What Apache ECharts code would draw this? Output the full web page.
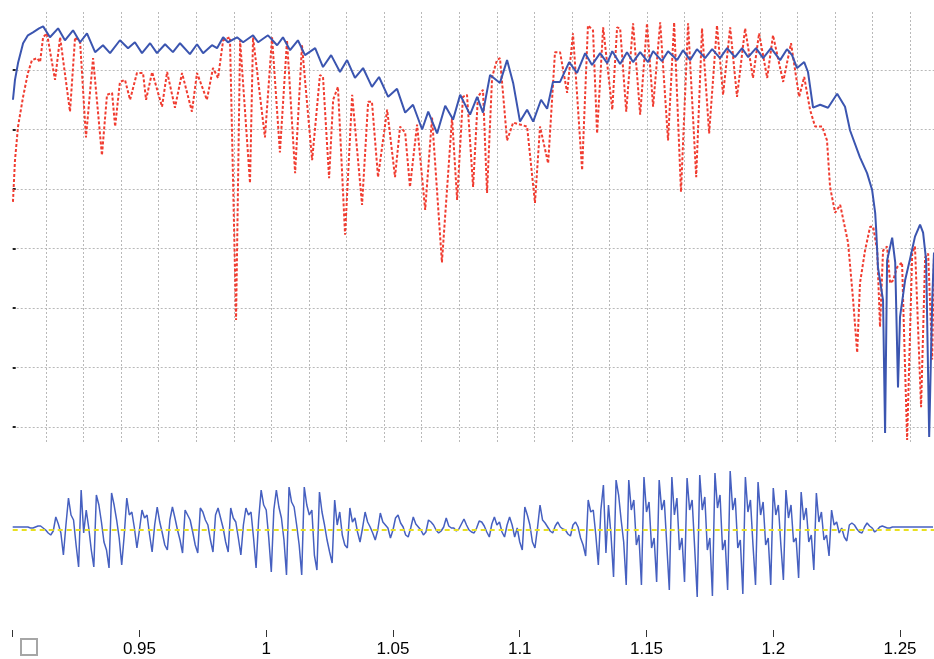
<!DOCTYPE html>
<html>
<head>
<meta charset="utf-8">
<title>Pitch tracks and waveform</title>
<script src="https://cdn.jsdelivr.net/npm/echarts@6/dist/echarts.min.js"></script>
<style>
  html, body { margin: 0; padding: 0; background: #fff; }
  #chart { width: 934px; height: 659px; }
</style>
</head>
<body>
<div id="chart"></div>
<script>
// solid blue pitch track (time in s, value in axis units)
var blueTime = [0.9001,0.9009,0.9021,0.9041,0.9060,0.9080,0.9104,0.9120,0.9147,0.9179,0.9206,0.9238,0.9266,0.9293,0.9325,0.9356,0.9384,0.9423,0.9455,0.9482,0.9510,0.9542,0.9569,0.9601,0.9632,0.9660,0.9699,0.9727,0.9751,0.9786,0.9806,0.9830,0.9849,0.9885,0.9909,0.9948,0.9968,1.0007,1.0043,1.0066,1.0094,1.0125,1.0153,1.0193,1.0224,1.0256,1.0291,1.0319,1.0350,1.0382,1.0417,1.0445,1.0481,1.0516,1.0548,1.0579,1.0615,1.0639,1.0674,1.0706,1.0737,1.0765,1.0804,1.0832,1.0855,1.0883,1.0922,1.0950,1.0974,1.1001,1.1029,1.1053,1.1084,1.1108,1.1131,1.1159,1.1195,1.1226,1.1258,1.1285,1.1317,1.1345,1.1365,1.1396,1.1423,1.1447,1.1475,1.1506,1.1526,1.1561,1.1585,1.1621,1.1644,1.1672,1.1699,1.1731,1.1759,1.1790,1.1818,1.1849,1.1877,1.1901,1.1932,1.1960,1.1991,1.2027,1.2054,1.2074,1.2094,1.2122,1.2137,1.2157,1.2185,1.2216,1.2252,1.2283,1.2303,1.2342,1.2370,1.2390,1.2402,1.2406,1.2413,1.2433,1.2441,1.2449,1.2469,1.2481,1.2492,1.2500,1.2520,1.2540,1.2559,1.2579,1.2591,1.2603,1.2615,1.2627,1.2634];
var bluePitch = [330,350,367,387,395,398,402,404,393,402,390,400,388,397,378,385,377,390,382,388,377,387,377,386,378,387,376,386,377,385,382,393,388,393,388,395,388,395,385,393,380,390,375,382,363,375,358,370,352,362,343,353,333,341,317,325,300,318,296,324,310,335,315,333,317,355,347,370,347,308,320,308,330,321,348,348,368,357,377,365,377,367,379,366,378,368,378,368,379,369,379,370,380,370,381,372,381,372,382,373,382,373,382,372,382,370,381,375,362,368,358,322,325,322,336,323,299,272,256,239,216,199,161,128,-6,168,191,166,40,111,148,170,192,204,196,168,-10,128,176];

// dotted red pitch track
var redTime = [0.9001,0.9009,0.9021,0.9041,0.9060,0.9076,0.9096,0.9108,0.9120,0.9135,0.9167,0.9187,0.9226,0.9246,0.9266,0.9289,0.9317,0.9352,0.9372,0.9392,0.9404,0.9423,0.9443,0.9463,0.9490,0.9514,0.9526,0.9550,0.9589,0.9609,0.9640,0.9668,0.9707,0.9727,0.9766,0.9790,0.9810,0.9830,0.9857,0.9881,0.9897,0.9936,0.9948,0.9995,1.0023,1.0054,1.0082,1.0114,1.0141,1.0181,1.0212,1.0224,1.0248,1.0264,1.0283,1.0311,1.0339,1.0378,1.0402,1.0417,1.0441,1.0477,1.0508,1.0528,1.0548,1.0567,1.0595,1.0627,1.0654,1.0693,1.0733,1.0753,1.0776,1.0792,1.0816,1.0835,1.0855,1.0871,1.0891,1.0910,1.0922,1.0950,1.0974,1.1001,1.1029,1.1060,1.1080,1.1112,1.1139,1.1159,1.1187,1.1210,1.1246,1.1269,1.1289,1.1305,1.1329,1.1365,1.1384,1.1396,1.1420,1.1447,1.1475,1.1502,1.1526,1.1554,1.1585,1.1609,1.1636,1.1664,1.1696,1.1719,1.1747,1.1778,1.1802,1.1830,1.1857,1.1889,1.1920,1.1944,1.1976,1.1999,1.2039,1.2070,1.2102,1.2122,1.2145,1.2165,1.2193,1.2212,1.2224,1.2244,1.2264,1.2295,1.2315,1.2331,1.2342,1.2362,1.2382,1.2394,1.2410,1.2421,1.2433,1.2449,1.2461,1.2473,1.2488,1.2508,1.2528,1.2548,1.2559,1.2583,1.2599,1.2611,1.2627,1.2634];
var redPitch = [227,269,303,333,357,370,372,368,393,397,350,393,318,393,388,292,372,274,335,337,303,348,350,330,357,357,330,358,323,358,322,357,318,357,330,362,352,390,393,108,390,246,393,292,393,277,390,256,385,269,355,353,251,330,343,194,335,224,328,328,252,320,252,303,297,242,305,219,312,166,312,229,333,335,242,333,340,236,353,370,372,289,307,305,303,226,303,266,378,378,337,397,259,405,400,296,403,320,403,402,318,407,315,407,323,408,289,408,237,407,252,402,296,405,335,403,333,402,352,397,352,395,348,387,333,353,320,303,303,289,242,216,224,186,128,75,145,178,202,202,178,101,178,182,145,148,161,166,-13,175,182,20,171,175,68,175];

// waveform, one sample per millisecond from 0.9 s
var waveStart = 0.9;
var waveStep = 0.001;
var waveSamples = [
  3,3,3,3,3,3,3,2,2,3,4,4,2,0,-3,-5,-1,
  13,6,-3,-25,5,32,15,10,-15,-37,40,-3,20,2,-20,-37,35,25,8,-12,-20,-38,37,
  25,10,-8,-35,-5,32,15,18,2,-18,0,20,12,15,-5,-22,5,23,8,-3,
  -15,-20,10,23,12,0,-10,-23,20,15,10,-2,-15,-23,22,18,10,5,-10,-22,
  15,22,12,2,-12,-22,22,12,8,-8,-25,5,22,15,18,-8,-38,10,40,25,
  20,-8,-42,20,40,23,12,-10,-45,43,28,23,5,-15,-45,43,25,15,
  20,-25,-40,38,18,5,-10,-22,-33,30,5,18,-5,-15,-18,22,8,12,-2,-12,2,18,
  8,3,-3,-10,0,17,8,5,2,-8,0,12,15,7,3,-5,-7,2,13,6,
  3,0,-5,-2,10,8,5,0,-3,-1,3,12,4,2,2,-1,1,6,11,5,
  0,-2,-3,2,9,8,4,-2,-7,6,13,5,8,-2,-7,5,13,5,-7,2,
  -12,-20,23,15,5,-12,-18,2,25,10,7,3,-1,-3,4,8,3,1,0,-4,
  -6,5,8,3,-8,-15,-26,30,18,20,-5,-35,20,45,-23,25,-5,-47,50,35,
  10,-12,-55,50,20,30,-15,-5,-55,53,18,28,-18,-8,-52,50,20,30,-15,-60,
  53,15,32,-20,-8,-52,52,20,30,-18,-67,55,20,33,-20,-8,-66,57,22,35,
  -20,-10,-60,59,20,32,-18,-10,-64,53,18,30,-15,-55,48,15,28,-15,-8,-55,
  42,15,25,-15,-50,40,12,25,-12,-8,-48,38,10,22,-12,-5,-40,37,8,18,
  -10,-5,-26,20,5,8,-3,2,-7,-11,5,7,5,1,-2,-3,3,7,4,2,
  -2,0,3,4,3,2,2,3,3,3,3,3,3,3,3,3,3,3,3,3,3,3,3,3
];

var timeTicks = [0.9, 0.95, 1, 1.05, 1.1, 1.15, 1.2, 1.25];
var pitchLevels = [0, 60, 120, 180, 240, 300, 360];

var blueData = blueTime.map(function (t, i) { return [t, bluePitch[i]]; });
var redData = redTime.map(function (t, i) { return [t, redPitch[i]]; });
var waveData = waveSamples.map(function (v, i) {
  return [+(waveStart + i * waveStep).toFixed(4), v];
});

// vertical grid of the pitch panel (analysis frames)
var frameLines = [];
for (var k = 0; k < 24; k++) {
  frameLines.push(+(0.91314 + k * 0.014818).toFixed(5));
}

var dotted = { color: '#b9b9b9', width: 1, type: [2, 2] };

var chart = echarts.init(document.getElementById('chart'));
chart.setOption({
  animation: false,
  backgroundColor: '#ffffff',
  grid: [
    { left: 12.7, right: 0, top: 12, bottom: 215 },
    { left: 12.7, right: 0, top: 455, bottom: 29 }
  ],
  xAxis: [{
    gridIndex: 0,
    type: 'value',
    min: 0.9,
    max: 1.2634,
    axisLine: { show: false },
    axisLabel: { show: false },
    axisTick: { show: false, customValues: frameLines },
    splitLine: { show: true, lineStyle: dotted }
  }, {
    gridIndex: 1,
    type: 'value',
    min: 0.9,
    max: 1.2634,
    position: 'bottom',
    axisLine: { show: false, onZero: false },
    axisTick: {
      show: true,
      inside: false,
      length: 7,
      customValues: timeTicks,
      lineStyle: { color: '#333', width: 1 }
    },
    axisLabel: {
      customValues: timeTicks.slice(1),
      margin: 11,
      fontSize: 17,
      color: '#000',
      fontFamily: 'Liberation Sans, Arial, sans-serif'
    },
    splitLine: { show: false }
  }],
  yAxis: [{
    gridIndex: 0,
    type: 'value',
    min: -17.1,
    max: 418.5,
    axisLine: { show: false },
    axisLabel: { show: false },
    axisTick: {
      show: true,
      inside: true,
      length: 3,
      customValues: pitchLevels,
      lineStyle: { color: '#222', width: 2 }
    },
    splitLine: { show: true, lineStyle: dotted }
  }, {
    gridIndex: 1,
    type: 'value',
    min: -100,
    max: 75,
    show: false,
    splitLine: { show: false }
  }],
  graphic: [{
    type: 'rect',
    shape: { x: 21, y: 639, width: 16, height: 16 },
    style: { fill: '#fff', stroke: '#a6a6a6', lineWidth: 2 },
    z: 100
  }],
  series: [{
    name: 'pitch 2',
    type: 'line',
    xAxisIndex: 0,
    yAxisIndex: 0,
    data: redData,
    symbol: 'none',
    lineStyle: { color: '#f03c30', width: 2, type: [3, 2] },
    z: 3
  }, {
    name: 'pitch 1',
    type: 'line',
    xAxisIndex: 0,
    yAxisIndex: 0,
    data: blueData,
    symbol: 'none',
    lineStyle: { color: '#3b55b0', width: 2 },
    z: 4
  }, {
    name: 'waveform',
    type: 'line',
    xAxisIndex: 1,
    yAxisIndex: 1,
    data: waveData,
    symbol: 'none',
    lineStyle: { color: '#4660c0', width: 1.5 },
    markLine: {
      silent: true,
      symbol: 'none',
      label: { show: false },
      lineStyle: { color: '#e8e020', width: 2, type: [5, 4] },
      data: [{ yAxis: 0 }]
    }
  }]
});
</script>
</body>
</html>
